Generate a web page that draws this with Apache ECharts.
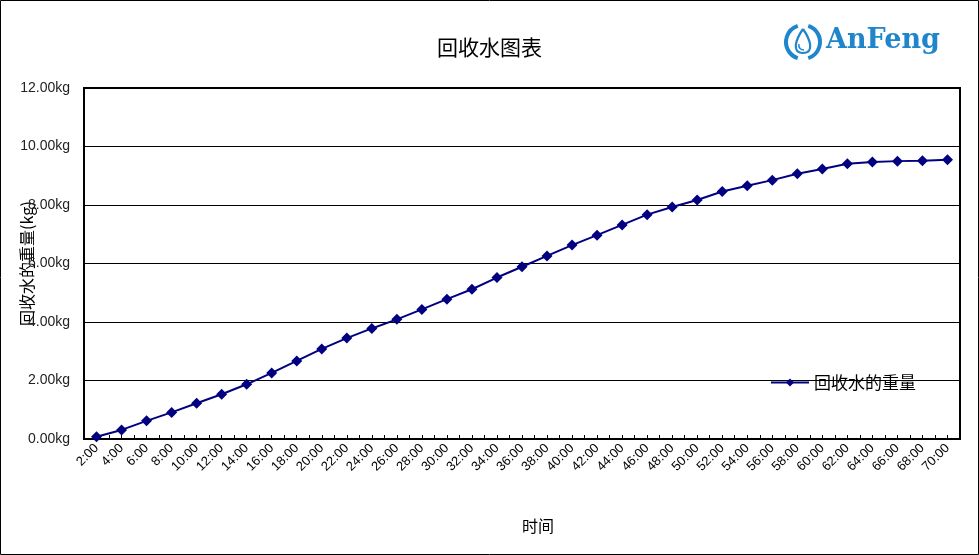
<!DOCTYPE html>
<html>
<head>
<meta charset="utf-8">
<script src="https://cdn.jsdelivr.net/npm/echarts@6/dist/echarts.min.js"></script>
<style>
html,body{margin:0;padding:0;background:#fff;}
#c{width:979px;height:555px;}
</style>
</head>
<body>
<div id="c"></div>
<script>
const categories = ['2:00','4:00','6:00','8:00','10:00','12:00','14:00','16:00','18:00','20:00','22:00','24:00','26:00','28:00','30:00','32:00','34:00','36:00','38:00','40:00','42:00','44:00','46:00','48:00','50:00','52:00','54:00','56:00','58:00','60:00','62:00','64:00','66:00','68:00','70:00'];
const waterWeight = [0.08,0.31,0.62,0.91,1.22,1.53,1.87,2.26,2.67,3.08,3.45,3.78,4.09,4.43,4.78,5.12,5.52,5.89,6.26,6.63,6.97,7.32,7.67,7.93,8.17,8.46,8.66,8.85,9.07,9.23,9.41,9.47,9.50,9.51,9.55];
const seriesName = '回收水的重量';
const titleText = '回收水图表';
const yAxisName = '回收水的重量(kg)';
const xAxisName = '时间';
const logoText = 'AnFeng';

const halfSteps = [];
for (let i = 0; i < categories.length * 2; i++) halfSteps.push(String(i));

const chart = echarts.init(document.getElementById('c'));
const cjk = '"Noto Sans CJK JP","Noto Sans CJK SC",sans-serif';
const blue = '#1f86cc';
chart.setOption({
  animation: false,
  backgroundColor: '#fff',
  title: {
    text: titleText, left: 'center', top: 32,
    textStyle: {fontSize: 21, fontWeight: 'normal', color: '#000', fontFamily: cjk}
  },
  legend: {
    left: 770, top: 374, padding: 0, itemWidth: 38, itemHeight: 10, itemGap: 5,
    data: [seriesName],
    textStyle: {fontSize: 17, color: '#000', fontFamily: cjk}
  },
  grid: {left: 84, right: 19, top: 88, bottom: 116, show: true, borderColor: '#000', borderWidth: 2, containLabel: false, outerBoundsMode: 'none'},
  xAxis: [{
    type: 'category', data: categories, boundaryGap: true,
    name: xAxisName, nameLocation: 'middle', nameGap: 79, nameMoveOverlap: false,
    nameTextStyle: {fontSize: 16, color: '#000', fontFamily: cjk, padding: [0, 0, 0, 32]},
    axisLine: {lineStyle: {color: '#000', width: 2}},
    axisTick: {show: false},
    axisLabel: {rotate: 45, interval: 0, margin: 7, fontSize: 13, color: '#000', fontFamily: 'Liberation Sans, Arial, sans-serif'}
  }, {
    type: 'category', data: halfSteps, boundaryGap: true, position: 'bottom',
    axisLine: {show: false},
    axisTick: {show: true, inside: true, length: 4, interval: 0, lineStyle: {color: '#000', width: 1}},
    axisLabel: {show: false}
  }],
  yAxis: {
    type: 'value', min: 0, max: 12, interval: 2,
    name: yAxisName, nameLocation: 'middle', nameGap: 49, nameRotate: 90, nameMoveOverlap: false,
    nameTextStyle: {fontSize: 16, color: '#000', fontFamily: cjk},
    axisLine: {show: true, lineStyle: {color: '#000', width: 2}},
    axisTick: {show: false},
    splitLine: {lineStyle: {color: '#000', width: 1}},
    axisLabel: {margin: 14, fontSize: 14, color: '#222', fontFamily: 'Liberation Sans, Arial, sans-serif',
      formatter: v => v.toFixed(2) + 'kg'}
  },
  series: [{
    name: seriesName, type: 'line', data: waterWeight, xAxisIndex: 0,
    symbol: 'diamond', symbolSize: 11, showSymbol: true,
    lineStyle: {color: '#000080', width: 2},
    itemStyle: {color: '#000080'}
  }],
  graphic: [
    {type: 'rect', shape: {x: 0.5, y: 0.5, width: 978, height: 554}, style: {fill: 'none', stroke: '#000', lineWidth: 1}, silent: true},
    {type: 'arc', shape: {cx: 803, cy: 42, r: 17, startAngle: Math.PI * 0.6, endAngle: Math.PI * 1.4}, style: {stroke: blue, lineWidth: 4, fill: 'none'}},
    {type: 'arc', shape: {cx: 803, cy: 42, r: 17, startAngle: -Math.PI * 0.4, endAngle: Math.PI * 0.4}, style: {stroke: blue, lineWidth: 4, fill: 'none'}},
    {type: 'bezierCurve', shape: {x1: 803, y1: 29, x2: 803, y2: 53, cpx1: 796, cpy1: 39, cpx2: 791, cpy2: 53}, style: {stroke: blue, lineWidth: 2.2, fill: 'none'}},
    {type: 'bezierCurve', shape: {x1: 803, y1: 29, x2: 803, y2: 53, cpx1: 810, cpy1: 39, cpx2: 815, cpy2: 53}, style: {stroke: blue, lineWidth: 2.2, fill: 'none'}},
    {type: 'bezierCurve', shape: {x1: 799, y1: 44, x2: 804, y2: 50, cpx1: 798, cpy1: 48, cpx2: 801, cpy2: 50}, style: {stroke: blue, lineWidth: 1.5, fill: 'none'}},
    {type: 'text', left: 826, top: 27, style: {text: logoText, fill: blue, font: 'bold 27px "DejaVu Serif", "Liberation Serif", serif'}}
  ]
});
</script>
</body>
</html>
